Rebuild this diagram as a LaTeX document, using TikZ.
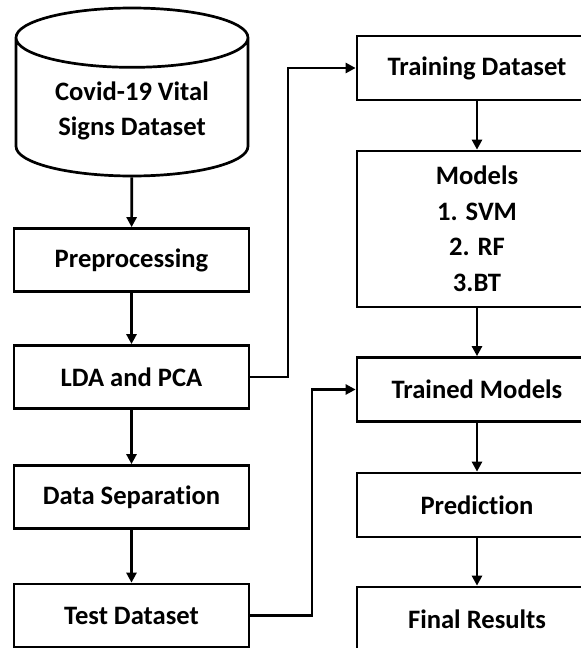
\documentclass[tikz,border=0pt]{standalone}
\usepackage{fontspec}
\setmainfont{Carlito}[Ligatures=NoCommon]
\usepackage{tikz}
\usetikzlibrary{shapes.geometric,arrows.meta}

\begin{document}
\begin{tikzpicture}[x=1pt, y=-1pt,
	box/.style={shape=rectangle, draw=black, line width=2.7pt, align=center,
		font=\fontsize{26.6}{35.5}\selectfont\bfseries},
	leftbox/.style={box, minimum width=235pt, minimum height=63pt},
	rightbox/.style={box, minimum width=240pt, minimum height=64pt},
	flow/.style={-{Triangle[length=10pt,width=10pt]}, line width=2.7pt}]

	\useasboundingbox (0, 0) rectangle (581, 648);
	\clip (0, 0) rectangle (581, 648);

	\node[box, shape=cylinder, shape border rotate=90, aspect=0.37, anchor=shape center,
		minimum width=232pt, minimum height=168pt] (data) at (132, 92) {Covid-19 Vital\\Signs Dataset};
	\node[leftbox] (pre)  at (131.5, 260)   {Preprocessing};
	\node[leftbox] (lda)  at (131.5, 377)   {LDA and PCA};
	\node[leftbox] (sep)  at (131.5, 497)   {Data Separation};
	\node[leftbox] (test) at (131.5, 615.5) {Test Dataset};

	\node[rightbox] (train)   at (477, 68)    {Training Dataset};
	\node[rightbox, minimum height=156pt] (models) at (477, 229) {Models\\1. SVM\\2. RF\\3.BT};
	\node[rightbox] (trained) at (477, 389.5) {Trained Models};
	\node[rightbox] (pred)    at (477, 505)   {Prediction};
	\node[rightbox] (final)   at (477, 619)   {Final Results};

	\path[flow] (data) edge (pre);
	\path[flow] (pre) edge (lda);
	\path[flow] (lda) edge (sep);
	\path[flow] (sep) edge (test);
	\path[flow] (train) edge (models);
	\path[flow] (models) edge (trained);
	\path[flow] (trained) edge (pred);
	\path[flow] (pred) edge (final);

	\draw[flow] (lda.east) -- (288, 377) |- (train.west);
	\draw[flow] (test.east) -- (312, 615.5) |- (trained.west);

\end{tikzpicture}
\end{document}
